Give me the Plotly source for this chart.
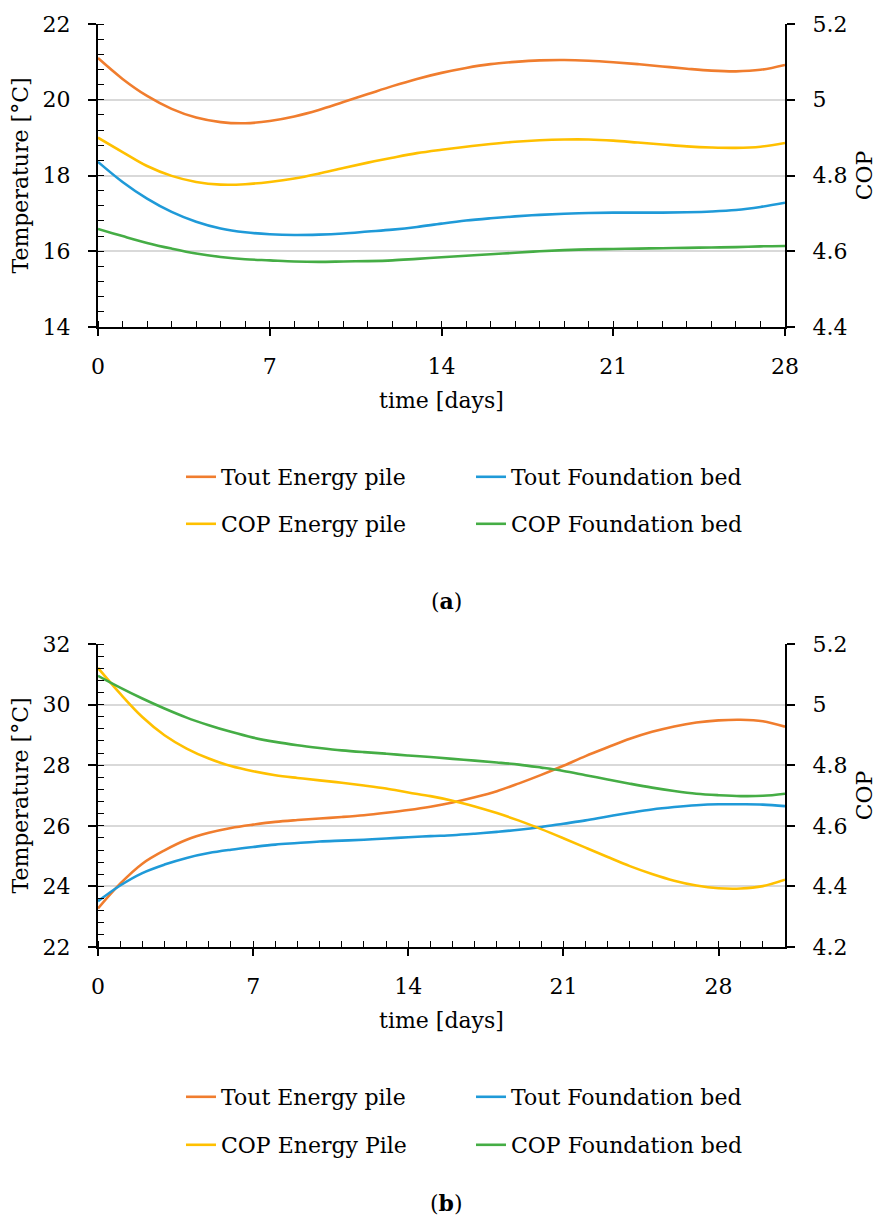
import plotly.graph_objects as go

# ---------------- data: chart (a) ----------------
days_a = list(range(0, 29))
tout_pile_a = [21.10, 20.55, 20.10, 19.76, 19.53, 19.41, 19.38, 19.44, 19.56, 19.73,
               19.94, 20.15, 20.36, 20.55, 20.71, 20.84, 20.94, 21.00, 21.04, 21.05,
               21.03, 20.99, 20.94, 20.88, 20.82, 20.77, 20.75, 20.79, 20.92]
tout_bed_a = [18.36, 17.83, 17.39, 17.04, 16.78, 16.60, 16.50, 16.45, 16.43, 16.44,
              16.47, 16.52, 16.57, 16.64, 16.73, 16.81, 16.87, 16.92, 16.96, 16.99,
              17.01, 17.02, 17.02, 17.02, 17.03, 17.05, 17.09, 17.17, 17.28]
cop_pile_a = [4.900, 4.862, 4.825, 4.799, 4.783, 4.776, 4.777, 4.783, 4.792, 4.805,
              4.820, 4.834, 4.847, 4.859, 4.868, 4.876, 4.883, 4.889, 4.893, 4.895,
              4.895, 4.892, 4.887, 4.882, 4.877, 4.874, 4.873, 4.876, 4.886]
cop_bed_a = [4.659, 4.640, 4.622, 4.607, 4.594, 4.585, 4.579, 4.576, 4.573, 4.572,
             4.573, 4.574, 4.576, 4.580, 4.584, 4.588, 4.592, 4.596, 4.600, 4.603,
             4.605, 4.606, 4.607, 4.608, 4.609, 4.610, 4.611, 4.613, 4.614]

# ---------------- data: chart (b) ----------------
days_b = list(range(0, 32))
tout_pile_b = [23.27, 24.09, 24.75, 25.19, 25.54, 25.77, 25.93, 26.04, 26.13, 26.19,
               26.24, 26.29, 26.35, 26.43, 26.52, 26.63, 26.77, 26.94, 27.14, 27.40,
               27.68, 27.98, 28.30, 28.59, 28.87, 29.10, 29.28, 29.41, 29.48, 29.50,
               29.45, 29.27]
tout_bed_b = [23.51, 24.03, 24.44, 24.72, 24.94, 25.10, 25.21, 25.30, 25.38, 25.43,
              25.48, 25.51, 25.54, 25.58, 25.62, 25.66, 25.69, 25.74, 25.80, 25.87,
              25.96, 26.07, 26.18, 26.31, 26.43, 26.54, 26.62, 26.68, 26.71, 26.71,
              26.70, 26.65]
cop_pile_b = [5.121, 5.036, 4.959, 4.899, 4.855, 4.822, 4.797, 4.780, 4.767, 4.758,
              4.750, 4.742, 4.733, 4.723, 4.710, 4.698, 4.683, 4.664, 4.642, 4.617,
              4.589, 4.559, 4.528, 4.497, 4.467, 4.441, 4.419, 4.403, 4.394, 4.393,
              4.401, 4.422]
cop_bed_b = [5.095, 5.056, 5.020, 4.987, 4.957, 4.932, 4.910, 4.891, 4.877, 4.866,
             4.857, 4.849, 4.843, 4.838, 4.832, 4.827, 4.821, 4.815, 4.809, 4.802,
             4.792, 4.781, 4.767, 4.753, 4.739, 4.726, 4.715, 4.706, 4.701, 4.698,
             4.699, 4.706]

# ---------------- labels / ticks ----------------
names_a = ["Tout Energy pile", "Tout Foundation bed", "COP Energy pile", "COP Foundation bed"]
names_b = ["Tout Energy pile", "Tout Foundation bed", "COP Energy Pile", "COP Foundation bed"]
x_ticks_a = [0, 7, 14, 21, 28]
x_ticks_b = [0, 7, 14, 21, 28]
temp_ticks_a = [14, 16, 18, 20, 22]
temp_ticks_b = [22, 24, 26, 28, 30, 32]
cop_ticks_a = [4.4, 4.6, 4.8, 5.0, 5.2]
cop_ticks_b = [4.2, 4.4, 4.6, 4.8, 5.0, 5.2]
cop_text_a = ["4.4", "4.6", "4.8", "5", "5.2"]
cop_text_b = ["4.2", "4.4", "4.6", "4.8", "5", "5.2"]

C_ORANGE = "#F07D2E"
C_BLUE = "#1F9AD8"
C_YELLOW = "#FFC000"
C_GREEN = "#45AD45"

W, H = 878, 1218
FONT = "DejaVu Serif"
FS = 22

def px_x(v):
    return v / W

def px_y(v):
    return 1 - v / H

fig = go.Figure()

def add(x, y, name, color, xa, ya, legend):
    fig.add_trace(go.Scatter(x=x, y=y, name=name, mode="lines", line_shape="spline",
                             line=dict(color=color, width=2.6), xaxis=xa, yaxis=ya,
                             legend=legend))

# chart (a): x / y (temp), y3 (COP)
add(days_a, tout_pile_a, names_a[0], C_ORANGE, "x", "y", "legend")
add(days_a, tout_bed_a, names_a[1], C_BLUE, "x", "y", "legend")
add(days_a, cop_pile_a, names_a[2], C_YELLOW, "x", "y3", "legend2")
add(days_a, cop_bed_a, names_a[3], C_GREEN, "x", "y3", "legend2")
# chart (b): x2 / y2 (temp), y4 (COP)
add(days_b, tout_pile_b, names_b[0], C_ORANGE, "x2", "y2", "legend3")
add(days_b, tout_bed_b, names_b[1], C_BLUE, "x2", "y2", "legend3")
add(days_b, cop_pile_b, names_b[2], C_YELLOW, "x2", "y4", "legend4")
add(days_b, cop_bed_b, names_b[3], C_GREEN, "x2", "y4", "legend4")

xdom = [px_x(98), px_x(785)]
ydom_a = [px_y(327), px_y(24)]
ydom_b = [px_y(947), px_y(644)]

tickfont = dict(family=FONT, size=FS, color="black")

def xaxis(rng, ticks, anchor):
    return dict(domain=xdom, anchor=anchor, range=rng, tickvals=ticks,
                ticks="outside", ticklen=7, tickwidth=1.6, tickcolor="black",
                minor=dict(dtick=1, tick0=0, ticks="inside", ticklen=6,
                           tickwidth=1.4, tickcolor="black", showgrid=False),
                showline=True, linecolor="black", linewidth=2, showgrid=False,
                zeroline=False, tickfont=tickfont, ticklabelstandoff=12,
                automargin=False,
                title=dict(text="time [days]", font=tickfont, standoff=14))

def yleft(rng, ticks, anchor, dom):
    return dict(domain=dom, anchor=anchor, range=rng, tickvals=ticks,
                ticks="outside", ticklen=8, tickwidth=1.6, tickcolor="black",
                minor=dict(dtick=0.4, tick0=rng[0], ticks="inside", ticklen=6,
                           tickwidth=1.4, tickcolor="black", showgrid=False),
                showline=True, linecolor="black", linewidth=2,
                showgrid=True, gridcolor="#d9d9d9", gridwidth=1.6,
                zeroline=False, tickfont=tickfont, ticklabelstandoff=13,
                automargin=False,
                title=dict(text="Temperature [°C]", font=tickfont, standoff=8))

def yright(rng, ticks, text, anchor, over):
    return dict(overlaying=over, side="right", anchor=anchor, range=rng,
                tickvals=ticks, ticktext=text,
                ticks="outside", ticklen=8, tickwidth=1.6, tickcolor="black",
                showline=True, linecolor="black", linewidth=2, showgrid=False,
                zeroline=False, tickfont=tickfont, ticklabelstandoff=13,
                automargin=False,
                title=dict(text="COP", font=tickfont, standoff=10))

legend_common = dict(orientation="h", font=dict(family=FONT, size=FS, color="black"),
                     entrywidth=245, entrywidthmode="pixels", xanchor="left",
                     yanchor="middle", bgcolor="rgba(0,0,0,0)", itemwidth=30,
                     tracegroupgap=0)

fig.update_layout(
    width=W, height=H, margin=dict(l=0, r=0, t=0, b=0),
    paper_bgcolor="white", plot_bgcolor="white",
    font=dict(family=FONT, size=FS, color="black"),
    xaxis=xaxis([0, 28], x_ticks_a, "y"),
    xaxis2=xaxis([0, 31], x_ticks_b, "y2"),
    yaxis=yleft([14, 22], temp_ticks_a, "x", ydom_a),
    yaxis2=yleft([22, 32], temp_ticks_b, "x2", ydom_b),
    yaxis3=yright([4.4, 5.2], cop_ticks_a, cop_text_a, "x", "y"),
    yaxis4=yright([4.2, 5.2], cop_ticks_b, cop_text_b, "x2", "y2"),
    legend=dict(legend_common, x=px_x(181), y=px_y(477)),
    legend2=dict(legend_common, x=px_x(181), y=px_y(524)),
    legend3=dict(legend_common, x=px_x(181), y=px_y(1097)),
    legend4=dict(legend_common, x=px_x(181), y=px_y(1145)),
    showlegend=True,
    annotations=[
        dict(text="(<b>a</b>)", x=px_x(446), y=px_y(601), xref="paper", yref="paper",
             xanchor="center", yanchor="middle",
             showarrow=False, font=dict(family=FONT, size=FS, color="black")),
        dict(text="(<b>b</b>)", x=px_x(446), y=px_y(1203), xref="paper", yref="paper",
             xanchor="center", yanchor="middle",
             showarrow=False, font=dict(family=FONT, size=FS, color="black")),
    ],
)

fig.write_html("out.html")
